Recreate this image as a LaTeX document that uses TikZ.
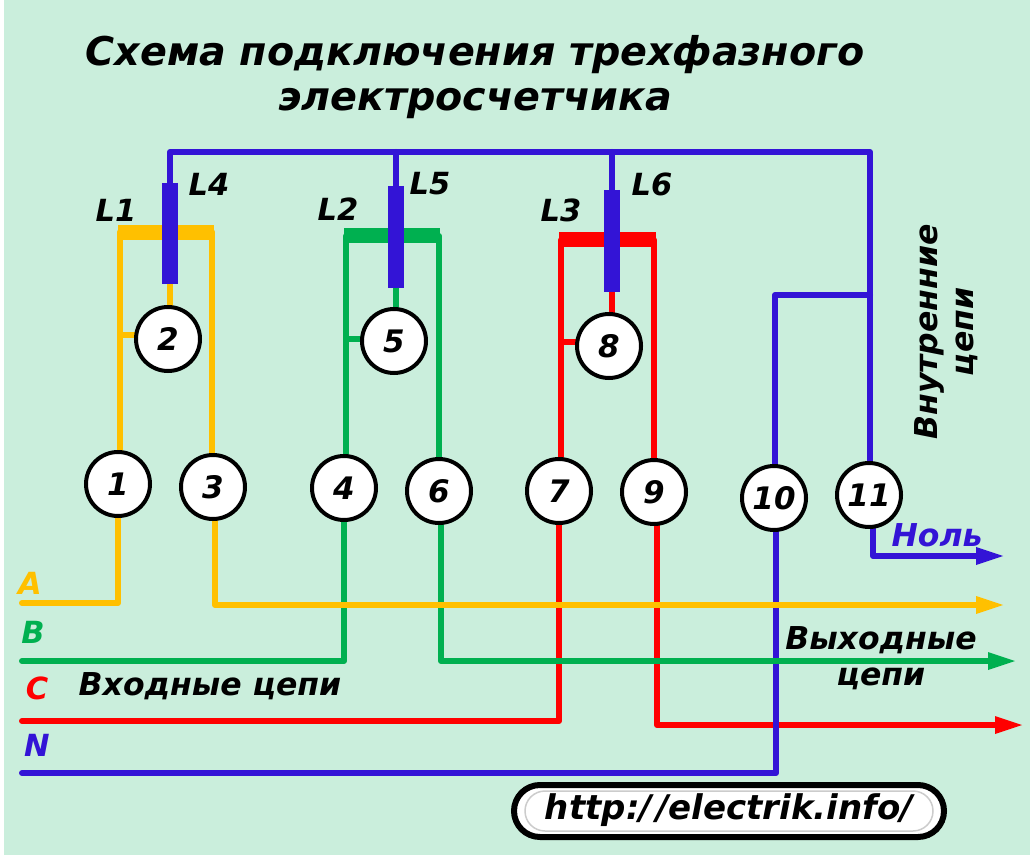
\documentclass[tikz,border=0pt]{standalone}
\usepackage{fontspec}
\setmainfont{DejaVu Sans}
\definecolor{bgc}{RGB}{202,238,220}
\definecolor{ya}{RGB}{255,192,0}
\definecolor{gr}{RGB}{0,176,80}
\definecolor{rd}{RGB}{255,0,0}
\definecolor{bl}{RGB}{51,20,214}
\pgfdeclarelayer{wires}
\pgfsetlayers{wires,main}
\tikzset{
  x=1pt,y=-1pt,
  wire/.style={line width=6pt,line join=round,line cap=round},
  endw/.style={line width=6pt,line join=round,line cap=butt},
  bar/.style={line width=15pt,line cap=butt},
  rod/.style={line width=16pt,line cap=butt,bl},
  term/.style={circle,draw=black,line width=4pt,fill=white,minimum size=64pt,inner sep=0pt,font=\fontsize{31}{33}\selectfont\bfseries\itshape},
  lab/.style={font=\fontsize{30.5}{33}\selectfont\bfseries\itshape,inner sep=0pt,text=black},
  big/.style={font=\fontsize{31.5}{34}\selectfont\bfseries\itshape,inner sep=0pt,text=black},
  ttl/.style={font=\fontsize{39.6}{42}\selectfont\bfseries\itshape,inner sep=0pt,text=black},
}
\begin{document}
\begin{tikzpicture}
\useasboundingbox (0,0) rectangle (1032,858);
% terminals
\node[term] (t2) at (168,339) {2};
\node[term] (t5) at (394,341) {5};
\node[term] (t8) at (609,346) {8};
\node[term] (t1) at (118,484) {1};
\node[term] (t3) at (213,487) {3};
\node[term] (t4) at (344,488) {4};
\node[term] (t6) at (439,491) {6};
\node[term] (t7) at (559,491) {7};
\node[term] (t9) at (654,492) {9};
\node[term] (t10) at (774,498) {10};
\node[term] (t11) at (869,495) {11};
% named points
\coordinate (tl) at (170,152);
\coordinate (tr) at (870,152);
\coordinate (top5) at (396,152);
\coordinate (top8) at (612,152);
\coordinate (brk) at (870,295);
\coordinate (brkl) at (775,295);
\coordinate (a1) at (120,232); \coordinate (a2) at (212,232);
\coordinate (b1) at (346,236); \coordinate (b2) at (439,236);
\coordinate (c1) at (561,240); \coordinate (c2) at (654,240);
\coordinate (inA) at (22,603); \coordinate (inB) at (22,661);
\coordinate (inC) at (22,721); \coordinate (inN) at (22,773);
\coordinate (outA) at (980,605); \coordinate (outB) at (992,661);
\coordinate (outC) at (999,725); \coordinate (outN) at (980,556);
\begin{pgfonlayer}{wires}
\fill[white] (0,0) rectangle (1032,858);
\fill[bgc] (4,0) rectangle (1030,855);
% inner wiring
\draw[wire,ya] (t1 -| a1) -- (a1) (a2) -- (t3 -| a2);
\draw[wire,ya] (a1 |- t2) ++(0,-4) -- ++(48,0);
\draw[wire,ya] (170,280) -- (t2 -| 170,0);
\draw[bar,ya] (118,232.5) -- (214,232.5);
\draw[wire,gr] (t4 -| b1) -- (b1) (b2) -- (t6 -| b2);
\draw[wire,gr] (b1 |- t5) ++(0,-2) -- ++(48,0);
\draw[wire,gr] (396,285) -- (t5 -| 396,0);
\draw[bar,gr] (344,236) -- (440,236);
\draw[wire,rd] (t7 -| c1) -- (c1) (c2) -- (t9 -| c2);
\draw[wire,rd] (c1 |- t8) ++(0,-4) -- ++(48,0);
\draw[wire,rd] (612,290) -- (t8 -| 612,0);
\draw[bar,rd] (559,240) -- (656,240);
\draw[wire,bl] (170,190) -- (tl) -- (tr) -- (t11 -| tr);
\draw[wire,bl] (top5) -- (396,190);
\draw[wire,bl] (top8) -- (612,195);
\draw[wire,bl] (brk) -- (brkl) -- (t10 -| brkl);
\draw[rod] (170,183) -- (170,284);
\draw[rod] (396,186) -- (396,288);
\draw[rod] (612,190) -- (612,292);
% outer wiring, in the stacking order of the crossings
\draw[wire,rd] (t7) -- (inC -| t7) -- (inC);
\draw[endw,rd] (t9 -| 657,0) -- (outC -| 657,0) -- (outC);
\fill[rd] (995,716) -- (1022,725) -- (995,734) -- cycle;
\draw[wire,bl] (t10 -| 776,0) -- (776,773) -- (inN);
\draw[endw,bl] (t11 -| 873,0) -- (outN -| 873,0) -- (outN);
\fill[bl] (976,547) -- (1003,556) -- (976,565) -- cycle;
\draw[wire,gr] (t4) -- (inB -| t4) -- (inB);
\draw[wire,ya] (t1) -- (inA -| t1) -- (inA);
\draw[endw,gr] (t6 -| 441,0) -- (outB -| 441,0);
\draw[endw,ya] (t3 -| 215,0) -- (outA -| 215,0) -- (outA);
\fill[ya] (976,596) -- (1003,605) -- (976,614) -- cycle;
\draw[endw,gr] (441,658) -- (outB -| 441,0) -- (outB);
\fill[gr] (988,652) -- (1015,661) -- (988,670) -- cycle;
\end{pgfonlayer}
% labels
\node[ttl] (title1) at (475,55) {Схема подключения трехфазного};
\node[ttl] (title2) at (475,104) {электросчетчика};
\node[lab] (l1) at (116,210) {L1};
\node[lab] (l4) at (209,184) {L4};
\node[lab] (l2) at (338,209) {L2};
\node[lab] (l5) at (430,184) {L5};
\node[lab] (l3) at (561,210) {L3};
\node[lab] (l6) at (652,184) {L6};
\node[big,rotate=90] (vn) at (929,332) {Внутренние};
\node[big,rotate=90] (vc) at (967,332) {цепи};
\node[big,text=bl] (nol) at (937,535) {Ноль};
\node[lab,text=ya] (la) at (30,583) {A};
\node[lab,text=gr] (lb) at (33,632) {B};
\node[lab,text=rd] (lc) at (37,688) {C};
\node[lab,text=bl] (ln) at (37,745) {N};
\node[big] (vh) at (210,686) {Входные цепи};
\node[big] (vy1) at (881,640) {Выходные};
\node[big] (vy2) at (881,679) {цепи};
\node[draw=black,line width=6pt,fill=white,rounded corners=26pt,minimum width=430pt,minimum height=52pt,inner sep=0pt] (url) at (729,811) {};
\draw[gray!40,line width=1.5pt,rounded corners=20pt] (525,791) rectangle (933,831);
\node[lab,font=\fontsize{34}{36}\selectfont\bfseries\itshape] (urlt) at (729,810) {http:/\kern4pt/electrik.info/};
\end{tikzpicture}
\end{document}
